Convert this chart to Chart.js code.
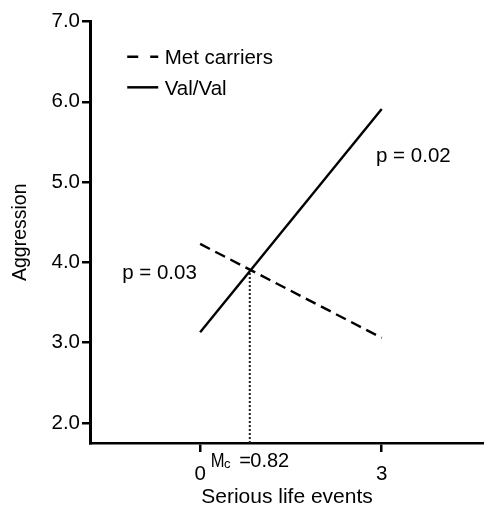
<!DOCTYPE html>
<html><head><meta charset="utf-8">
<script src="https://cdn.jsdelivr.net/npm/chart.js@4"></script>
<style>html,body{margin:0;padding:0;background:#fff}#wrap{width:484px;height:508px}</style>
</head><body><div id="wrap"><canvas id="c" width="484" height="508"></canvas></div>
<script>
const lifeEvents = [0, 3];
const metCarriers = [4.23, 3.06];
const valVal = [3.13, 5.91];
const mcValue = 0.82;
const mcLine = [1.75, 3.9];
const xTickValues = [0, 3];
const yTickValues = [2.0, 3.0, 4.0, 5.0, 6.0, 7.0];
const seriesNames = ['Met carriers', 'Val/Val'];
const pLabels = ['p = 0.03', 'p = 0.02'];
const mcLabel = ['M', 'c', '=', '0.82'];

const FONT = '"Liberation Sans", Arial, Helvetica, sans-serif';

const annot = {
  id: 'annot',
  afterDatasetsDraw(chart) {
    const ctx = chart.ctx, xs = chart.scales.x, ys = chart.scales.y;
    const ds = chart.data.datasets;
    ctx.save();
    ctx.fillStyle = '#000';
    ctx.textBaseline = 'alphabetic';
    ctx.textAlign = 'left';
    // legend
    const lx = xs.getPixelForValue(-1.205), ly = ys.getPixelForValue(6.56);
    for (let i = 0; i < 2; i++) {
      const y = ly + i * 30.5;
      ctx.save();
      ctx.strokeStyle = '#000';
      ctx.lineWidth = 2.5;
      ctx.setLineDash(i === 0 ? [11, 12] : []);
      ctx.beginPath(); ctx.moveTo(lx, y); ctx.lineTo(lx + 31, y); ctx.stroke();
      ctx.restore();
      ctx.font = '20.5px ' + FONT;
      ctx.fillText(ds[i].label, lx + 37.5, y + 7.3);
    }
    // p values
    ctx.font = '20.5px ' + FONT;
    ctx.fillText(pLabels[0], xs.getPixelForValue(-1.288), ys.getPixelForValue(3.797));
    ctx.fillText(pLabels[1], xs.getPixelForValue(2.906), ys.getPixelForValue(5.253));
    // Mc label
    const cx = xs.getPixelForValue(mcValue), my = chart.chartArea.bottom + 24;
    ctx.save();
    ctx.translate(cx - 39, my);
    ctx.scale(0.85, 1);
    ctx.font = '19.5px ' + FONT;
    ctx.fillText(mcLabel[0], 0, 0);
    ctx.restore();
    ctx.font = '13px ' + FONT;
    ctx.fillText(mcLabel[1], cx - 25.8, my + 0.8);
    ctx.font = '20px ' + FONT;
    ctx.fillText(mcLabel[2], cx - 10.5, my);
    ctx.fillText(mcLabel[3], cx + 0.5, my);
    ctx.restore();
  }
};

new Chart(document.getElementById('c'), {
  type: 'scatter',
  data: {
    datasets: [
      { label: seriesNames[0], data: lifeEvents.map((x, i) => ({ x, y: metCarriers[i] })),
        showLine: true, borderColor: '#000', borderWidth: 2.4, borderDash: [11, 6], pointRadius: 0 },
      { label: seriesNames[1], data: lifeEvents.map((x, i) => ({ x, y: valVal[i] })),
        showLine: true, borderColor: '#000', borderWidth: 2.4, pointRadius: 0 },
      { label: 'Mc', data: mcLine.map(y => ({ x: mcValue, y })),
        showLine: true, borderColor: '#222', borderWidth: 2, borderDash: [2, 2], pointRadius: 0 }
    ]
  },
  options: {
    responsive: false,
    animation: false,
    devicePixelRatio: 1,
    layout: { padding: { top: 21.5, right: 0, left: 0, bottom: 0 } },
    plugins: { legend: { display: false }, tooltip: { enabled: false } },
    scales: {
      x: {
        type: 'linear', min: -1.82, max: 4.69,
        afterBuildTicks: s => { s.ticks = xTickValues.map(v => ({ value: v })); },
        afterFit: s => { s.height = 65; },
        grid: { drawOnChartArea: false, drawTicks: true, tickLength: 9, color: '#000', lineWidth: 2.5 },
        border: { display: true, color: '#000', width: 2.6 },
        ticks: { color: '#000', font: { family: FONT, size: 20.5 }, padding: 10, maxRotation: 0, autoSkip: false },
        title: { display: true, text: 'Serious life events', color: '#000', font: { family: FONT, size: 21 }, padding: { top: 0, bottom: -2 } }
      },
      y: {
        type: 'linear', min: 1.75, max: 7.0,
        afterBuildTicks: s => { s.ticks = yTickValues.map(v => ({ value: v })); },
        afterFit: s => { s.width = 90; },
        grid: { drawOnChartArea: false, drawTicks: true, tickLength: 8, color: '#000', lineWidth: 2.5 },
        border: { display: true, color: '#000', width: 3 },
        ticks: { color: '#000', font: { family: FONT, size: 20.5 }, padding: 2, callback: v => Number(v).toFixed(1) },
        title: { display: true, text: 'Aggression', color: '#000', font: { family: FONT, size: 19.5 }, padding: { top: 8.5, bottom: 0 } }
      }
    }
  },
  plugins: [annot]
});
</script>
</body></html>
